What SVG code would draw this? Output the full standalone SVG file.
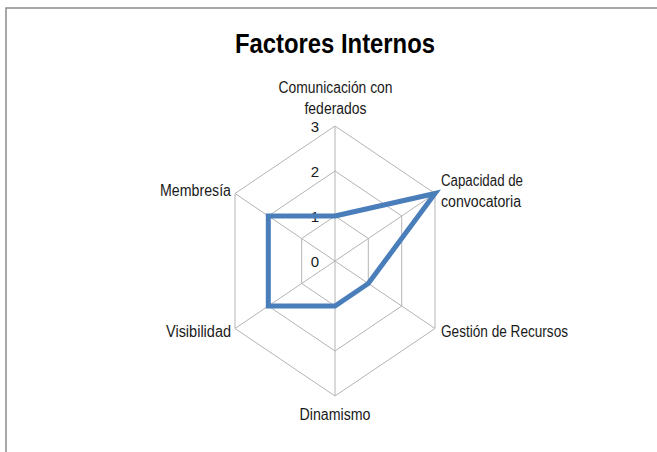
<svg xmlns="http://www.w3.org/2000/svg" width="657" height="452" viewBox="0 0 657 452">
<style>
.lbl{font-family:"Liberation Sans",Arial,sans-serif;font-size:16px;fill:#1a1a1a}
.tick{font-family:"Liberation Sans",Arial,sans-serif;font-size:15px;fill:#1a1a1a}
.grid{fill:none;stroke:#b4b4b4;stroke-width:1}
.series{fill:none;stroke:#4a7ebb;stroke-width:5;stroke-linejoin:miter;stroke-miterlimit:10}
</style>
<rect x="0" y="0" width="657" height="452" fill="#ffffff"/>
<g id="frame">
<path d="M6,452 L6,8 L657,8" fill="none" stroke="#8c8c8c" stroke-width="1.5"/>
</g>
<text id="title" x="335" y="53" text-anchor="middle" textLength="200" lengthAdjust="spacingAndGlyphs" style="font-family:'Liberation Sans',Arial,sans-serif;font-size:28px;font-weight:bold;fill:#000">Factores Internos</text>
<g id="grid">
<polygon class="grid" points="335,216 368.3,238.5 368.3,283.5 335,306 301.7,283.5 301.7,238.5"/>
<polygon class="grid" points="335,171 401.7,216 401.7,306 335,351 268.3,306 268.3,216"/>
<polygon class="grid" points="335,126 435,193.5 435,328.5 335,396 235,328.5 235,193.5"/>
<path class="grid" d="M335,261 L335,126 M335,261 L435,193.5 M335,261 L435,328.5 M335,261 L335,396 M335,261 L235,328.5 M335,261 L235,193.5"/>
</g>
<g id="ticks">
<text class="tick" x="319" y="267" text-anchor="end">0</text>
<text class="tick" x="319" y="222" text-anchor="end">1</text>
<text class="tick" x="319" y="177" text-anchor="end">2</text>
<text class="tick" x="319" y="132" text-anchor="end">3</text>
</g>
<g id="series">
<polygon class="series" points="335,216 435,193.5 368.3,283.5 335,306 268.3,306 268.3,216"/>
</g>
<g id="axis-comunicacion">
<text class="lbl" x="335.5" y="93" text-anchor="middle" textLength="114" lengthAdjust="spacingAndGlyphs">Comunicación con</text>
<text class="lbl" x="335.5" y="114" text-anchor="middle" textLength="62" lengthAdjust="spacingAndGlyphs">federados</text>
</g>
<g id="axis-capacidad">
<text class="lbl" x="441" y="186" textLength="82" lengthAdjust="spacingAndGlyphs">Capacidad de</text>
<text class="lbl" x="441" y="207" textLength="80" lengthAdjust="spacingAndGlyphs">convocatoria</text>
</g>
<g id="axis-gestion">
<text class="lbl" x="441" y="337" textLength="127" lengthAdjust="spacingAndGlyphs">Gestión de Recursos</text>
</g>
<g id="axis-dinamismo">
<text class="lbl" x="335" y="420" text-anchor="middle" textLength="71" lengthAdjust="spacingAndGlyphs">Dinamismo</text>
</g>
<g id="axis-visibilidad">
<text class="lbl" x="231" y="337" text-anchor="end" textLength="65" lengthAdjust="spacingAndGlyphs">Visibilidad</text>
</g>
<g id="axis-membresia">
<text class="lbl" x="231" y="196" text-anchor="end" textLength="71" lengthAdjust="spacingAndGlyphs">Membresía</text>
</g>
</svg>
